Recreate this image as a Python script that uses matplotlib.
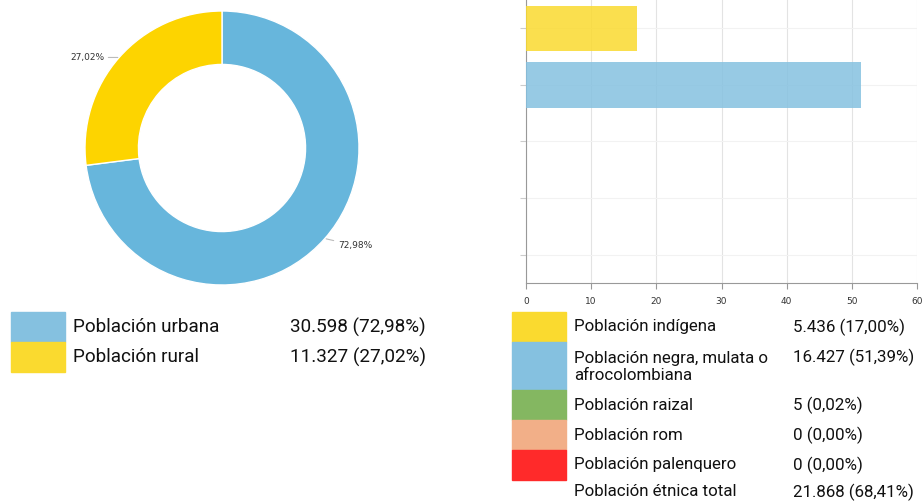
import numpy as np
import matplotlib.pyplot as plt
from matplotlib.patches import Rectangle

plt.rcParams['font.family'] = ['Roboto', 'DejaVu Sans']

# donut data: urban / rural population
area_labels = ["Población urbana", "Población rural"]
area_counts = ["30.598", "11.327"]
area_pct = [72.98, 27.02]
area_colors = ["#67B6DC", "#FDD400"]
area_swatch = ["#85C1E0", "#FADA2F"]

# bar data: ethnic population
eth_labels = ["Población indígena", "Población negra, mulata o\nafrocolombiana",
              "Población raizal", "Población rom", "Población palenquero"]
eth_counts = ["5.436", "16.427", "5", "0", "0"]
eth_pct = [17.00, 51.39, 0.02, 0.00, 0.00]
eth_colors = ["#FADA2F", "#85C1E0", "#84B761", "#F2AF88", "#FF2A2A"]
total_label = "Población étnica total"
total_count = "21.868"
total_pct = 68.41

W, H = 924, 504
fig = plt.figure(figsize=(W / 100, H / 100), dpi=100)


def fx(px):
    return px / W


def fy(py):
    return 1 - py / H


def pct(v):
    return f"{v:.2f}".replace(".", ",") + "%"


# ---- donut ----
cx, cy, r = 222, 148, 137
ax1 = fig.add_axes([fx(cx - r), fy(cy + r), 2 * r / W, 2 * r / H])
wedges, _ = ax1.pie(area_pct, colors=area_colors, startangle=90, counterclock=False,
                    radius=1, wedgeprops=dict(width=0.39, edgecolor="white", linewidth=1))
ax1.set_xlim(-1, 1)
ax1.set_ylim(-1, 1)
offsets = [(13, -7), (-15, 0)]
for w, v, off in zip(wedges, area_pct, offsets):
    ang = np.deg2rad((w.theta1 + w.theta2) / 2)
    xy = (np.cos(ang), np.sin(ang))
    ax1.annotate(pct(v), xy=xy, xytext=off, textcoords="offset pixels",
                 ha="left" if off[0] > 0 else "right", va="center",
                 fontsize=6.5, color="#333333", family=["DejaVu Sans"],
                 arrowprops=dict(arrowstyle="-", color="#bbbbbb", lw=0.8,
                                 shrinkA=1, shrinkB=1))

# ---- horizontal bars ----
ax2 = fig.add_axes([fx(526), fy(283), (917 - 526) / W, 283 / H])
ypos = np.arange(len(eth_pct))
ax2.barh(ypos, eth_pct, height=0.8, color=eth_colors, alpha=0.85, zorder=3)
ax2.set_xlim(0, 60)
ax2.set_ylim(len(eth_pct) - 0.5, -0.5)
ax2.set_xticks(np.arange(0, 61, 10))
ax2.set_yticks(ypos)
ax2.set_yticklabels([])
ax2.grid(axis="x", color="#e3e3e3", lw=0.8, zorder=0)
ax2.grid(axis="y", color="#f2f2f2", lw=0.8, zorder=0)
for s in ["top", "right"]:
    ax2.spines[s].set_visible(False)
for s in ["left", "bottom"]:
    ax2.spines[s].set_color("#999999")
ax2.tick_params(axis="x", length=4, color="#999999", labelsize=6.5,
                labelcolor="#333333", pad=6)
ax2.tick_params(axis="y", length=4, color="#cccccc")
for t in ax2.get_xticklabels():
    t.set_family(["DejaVu Sans"])

# ---- legend tables ----
fs = 13.6
y0 = 312
for i, (lab, cnt, v, col) in enumerate(zip(area_labels, area_counts, area_pct, area_swatch)):
    top = y0 + i * 30
    fig.patches.append(Rectangle((fx(11), fy(top + 30)), 54 / W, 30 / H,
                                 transform=fig.transFigure, color=col))
    fig.text(fx(73), fy(top + 15), lab, fontsize=fs, va="center", color="#111111")
    fig.text(fx(290), fy(top + 15), f"{cnt} ({pct(v)})", fontsize=fs, va="center",
             color="#111111")

fs2 = 12.2
top = 312
for lab, cnt, v, col in zip(eth_labels, eth_counts, eth_pct, eth_colors):
    h = 48 if "\n" in lab else 30
    fig.patches.append(Rectangle((fx(512), fy(top + h)), 54 / W, h / H,
                                 transform=fig.transFigure, color=col))
    if "\n" in lab:
        fig.text(fx(574), fy(top + 25), lab, fontsize=fs2, va="center", color="#111111",
                 linespacing=1.1)
        fig.text(fx(793), fy(top + 15), f"{cnt} ({pct(v)})", fontsize=fs2, va="center",
                 color="#111111")
    else:
        fig.text(fx(574), fy(top + 15), lab, fontsize=fs2, va="center", color="#111111")
        fig.text(fx(793), fy(top + 15), f"{cnt} ({pct(v)})", fontsize=fs2, va="center",
                 color="#111111")
    top += h
fig.text(fx(574), fy(top + 12), total_label, fontsize=fs2, va="center", color="#111111")
fig.text(fx(793), fy(top + 12), f"{total_count} ({pct(total_pct)})", fontsize=fs2,
         va="center", color="#111111")

fig.savefig("out.png", dpi=100)
